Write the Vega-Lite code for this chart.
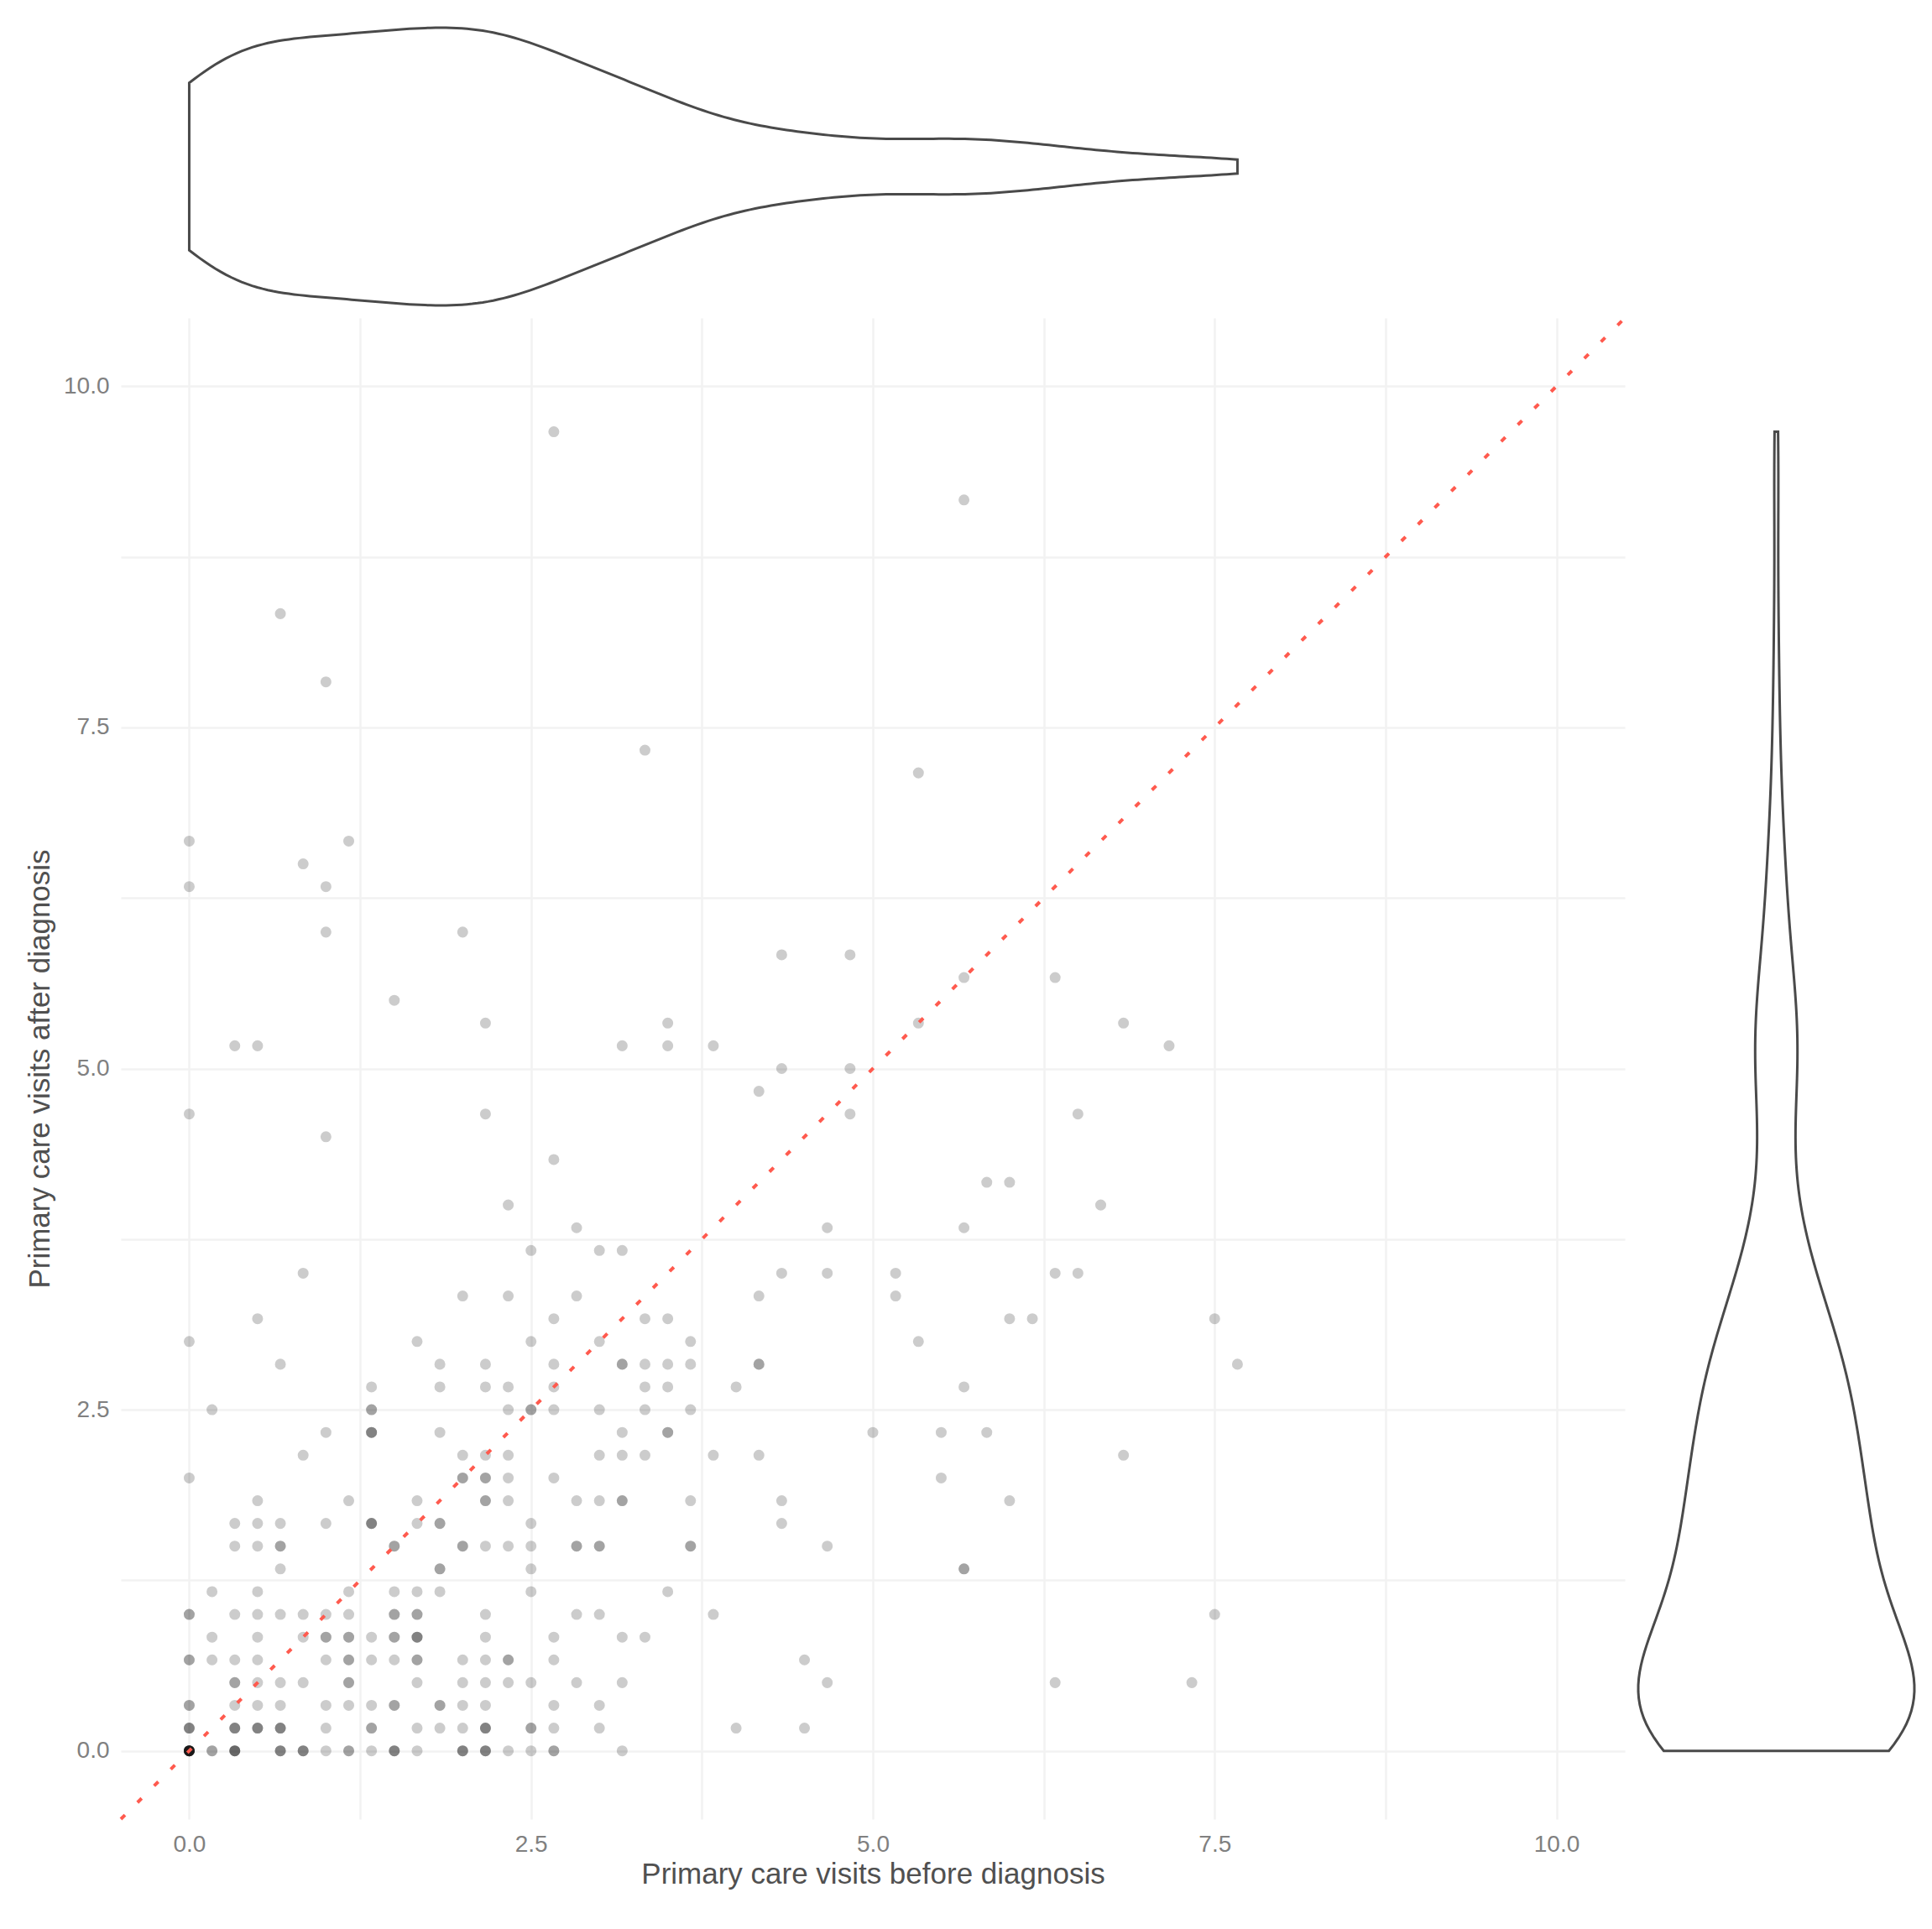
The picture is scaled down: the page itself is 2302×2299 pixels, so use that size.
{
  "$schema": "https://vega.github.io/schema/vega-lite/v6.json",
  "background": "white",
  "padding": {"left": 30, "top": 27, "right": 22, "bottom": 5},
  "bounds": "flush",
  "spacing": 15,
  "config": {
    "view": {"stroke": null},
    "axis": {
      "labelFont": "Liberation Sans", "titleFont": "Liberation Sans",
      "labelFontSize": 28, "titleFontSize": 35,
      "labelColor": "#808080", "titleColor": "#505050", "titleFontWeight": "normal",
      "grid": true, "gridColor": "#f2f2f2", "gridWidth": 2.5,
      "ticks": false, "domain": false, "labelFlush": false, "labelOverlap": false
    }
  },
  "datasets": {
    "diagonal": [{"before": -0.5, "after": -0.5}, {"before": 10.5, "after": 10.5}],
    "visits": [
      {"before":0,"after":0},{"before":0,"after":0},{"before":0,"after":0},{"before":0,"after":0},{"before":0,"after":0},{"before":0,"after":0},{"before":0,"after":0},{"before":0,"after":0},{"before":0,"after":0},{"before":0,"after":0},
      {"before":0.1667,"after":0},{"before":0.1667,"after":0},
      {"before":0.3333,"after":0},{"before":0.3333,"after":0},{"before":0.3333,"after":0},{"before":0.3333,"after":0},
      {"before":0.6667,"after":0},{"before":0.6667,"after":0},{"before":0.6667,"after":0},
      {"before":0.8333,"after":0},{"before":0.8333,"after":0},{"before":0.8333,"after":0},
      {"before":1,"after":0},
      {"before":1.1667,"after":0},{"before":1.1667,"after":0},
      {"before":1.3333,"after":0},
      {"before":1.5,"after":0},{"before":1.5,"after":0},{"before":1.5,"after":0},
      {"before":1.6667,"after":0},
      {"before":2,"after":0},{"before":2,"after":0},{"before":2,"after":0},
      {"before":2.1667,"after":0},{"before":2.1667,"after":0},{"before":2.1667,"after":0},
      {"before":2.3333,"after":0},{"before":2.5,"after":0},
      {"before":2.6667,"after":0},{"before":2.6667,"after":0},
      {"before":3.1667,"after":0},

      {"before":0,"after":0.1667},{"before":0,"after":0.1667},{"before":0,"after":0.1667},
      {"before":0.3333,"after":0.1667},{"before":0.3333,"after":0.1667},{"before":0.3333,"after":0.1667},
      {"before":0.5,"after":0.1667},{"before":0.5,"after":0.1667},{"before":0.5,"after":0.1667},
      {"before":0.6667,"after":0.1667},{"before":0.6667,"after":0.1667},{"before":0.6667,"after":0.1667},
      {"before":1,"after":0.1667},
      {"before":1.3333,"after":0.1667},{"before":1.3333,"after":0.1667},
      {"before":1.6667,"after":0.1667},{"before":1.8333,"after":0.1667},{"before":2,"after":0.1667},
      {"before":2.1667,"after":0.1667},{"before":2.1667,"after":0.1667},{"before":2.1667,"after":0.1667},
      {"before":2.5,"after":0.1667},{"before":2.5,"after":0.1667},
      {"before":2.6667,"after":0.1667},{"before":3,"after":0.1667},{"before":4,"after":0.1667},{"before":4.5,"after":0.1667},

      {"before":0,"after":0.3333},{"before":0,"after":0.3333},
      {"before":0.3333,"after":0.3333},{"before":0.5,"after":0.3333},{"before":0.6667,"after":0.3333},{"before":1,"after":0.3333},{"before":1.1667,"after":0.3333},{"before":1.3333,"after":0.3333},
      {"before":1.5,"after":0.3333},{"before":1.5,"after":0.3333},
      {"before":1.8333,"after":0.3333},{"before":1.8333,"after":0.3333},
      {"before":2,"after":0.3333},{"before":2.1667,"after":0.3333},{"before":2.6667,"after":0.3333},{"before":3,"after":0.3333},

      {"before":0.3333,"after":0.5},{"before":0.3333,"after":0.5},
      {"before":0.5,"after":0.5},{"before":0.6667,"after":0.5},{"before":0.8333,"after":0.5},
      {"before":1.1667,"after":0.5},{"before":1.1667,"after":0.5},
      {"before":1.6667,"after":0.5},{"before":2,"after":0.5},{"before":2.1667,"after":0.5},{"before":2.3333,"after":0.5},{"before":2.5,"after":0.5},{"before":2.8333,"after":0.5},{"before":3.1667,"after":0.5},{"before":4.6667,"after":0.5},{"before":6.3333,"after":0.5},{"before":7.3333,"after":0.5},

      {"before":0,"after":0.6667},{"before":0,"after":0.6667},
      {"before":0.1667,"after":0.6667},{"before":0.3333,"after":0.6667},{"before":0.5,"after":0.6667},{"before":1,"after":0.6667},
      {"before":1.1667,"after":0.6667},{"before":1.1667,"after":0.6667},
      {"before":1.3333,"after":0.6667},{"before":1.5,"after":0.6667},
      {"before":1.6667,"after":0.6667},{"before":1.6667,"after":0.6667},
      {"before":2,"after":0.6667},{"before":2.1667,"after":0.6667},
      {"before":2.3333,"after":0.6667},{"before":2.3333,"after":0.6667},
      {"before":2.6667,"after":0.6667},{"before":4.5,"after":0.6667},

      {"before":0.1667,"after":0.8333},{"before":0.5,"after":0.8333},{"before":0.8333,"after":0.8333},
      {"before":1,"after":0.8333},{"before":1,"after":0.8333},
      {"before":1.1667,"after":0.8333},{"before":1.1667,"after":0.8333},
      {"before":1.3333,"after":0.8333},
      {"before":1.5,"after":0.8333},{"before":1.5,"after":0.8333},
      {"before":1.6667,"after":0.8333},{"before":1.6667,"after":0.8333},{"before":1.6667,"after":0.8333},
      {"before":2.1667,"after":0.8333},{"before":2.6667,"after":0.8333},{"before":3.1667,"after":0.8333},{"before":3.3333,"after":0.8333},

      {"before":0,"after":1},{"before":0,"after":1},
      {"before":0.3333,"after":1},{"before":0.5,"after":1},{"before":0.6667,"after":1},{"before":0.8333,"after":1},{"before":1,"after":1},{"before":1.1667,"after":1},
      {"before":1.5,"after":1},{"before":1.5,"after":1},
      {"before":1.6667,"after":1},{"before":1.6667,"after":1},
      {"before":2.1667,"after":1},{"before":2.8333,"after":1},{"before":3,"after":1},{"before":3.8333,"after":1},{"before":7.5,"after":1},

      {"before":0.1667,"after":1.1667},{"before":0.5,"after":1.1667},{"before":1.1667,"after":1.1667},{"before":1.5,"after":1.1667},{"before":1.6667,"after":1.1667},{"before":1.8333,"after":1.1667},{"before":2.5,"after":1.1667},{"before":3.5,"after":1.1667},

      {"before":0.6667,"after":1.3333},
      {"before":1.8333,"after":1.3333},{"before":1.8333,"after":1.3333},
      {"before":2.5,"after":1.3333},
      {"before":5.6667,"after":1.3333},{"before":5.6667,"after":1.3333},

      {"before":0.3333,"after":1.5},{"before":0.5,"after":1.5},
      {"before":0.6667,"after":1.5},{"before":0.6667,"after":1.5},
      {"before":1.5,"after":1.5},{"before":1.5,"after":1.5},
      {"before":2,"after":1.5},{"before":2,"after":1.5},
      {"before":2.1667,"after":1.5},{"before":2.3333,"after":1.5},{"before":2.5,"after":1.5},
      {"before":2.8333,"after":1.5},{"before":2.8333,"after":1.5},
      {"before":3,"after":1.5},{"before":3,"after":1.5},
      {"before":3.6667,"after":1.5},{"before":3.6667,"after":1.5},
      {"before":4.6667,"after":1.5},

      {"before":0.3333,"after":1.6667},{"before":0.5,"after":1.6667},{"before":0.6667,"after":1.6667},{"before":1,"after":1.6667},
      {"before":1.3333,"after":1.6667},{"before":1.3333,"after":1.6667},{"before":1.3333,"after":1.6667},
      {"before":1.6667,"after":1.6667},
      {"before":1.8333,"after":1.6667},{"before":1.8333,"after":1.6667},
      {"before":2.5,"after":1.6667},{"before":4.3333,"after":1.6667},

      {"before":0.5,"after":1.8333},{"before":1.1667,"after":1.8333},{"before":1.6667,"after":1.8333},
      {"before":2.1667,"after":1.8333},{"before":2.1667,"after":1.8333},
      {"before":2.3333,"after":1.8333},{"before":2.8333,"after":1.8333},{"before":3,"after":1.8333},
      {"before":3.1667,"after":1.8333},{"before":3.1667,"after":1.8333},
      {"before":3.6667,"after":1.8333},{"before":4.3333,"after":1.8333},{"before":6,"after":1.8333},

      {"before":0,"after":2},
      {"before":2,"after":2},{"before":2,"after":2},
      {"before":2.1667,"after":2},{"before":2.1667,"after":2},
      {"before":2.3333,"after":2},{"before":2.6667,"after":2},{"before":5.5,"after":2},

      {"before":0.8333,"after":2.1667},{"before":2,"after":2.1667},{"before":2.1667,"after":2.1667},{"before":2.3333,"after":2.1667},{"before":3,"after":2.1667},{"before":3.1667,"after":2.1667},{"before":3.3333,"after":2.1667},{"before":3.8333,"after":2.1667},{"before":4.1667,"after":2.1667},{"before":6.8333,"after":2.1667},

      {"before":1,"after":2.3333},
      {"before":1.3333,"after":2.3333},{"before":1.3333,"after":2.3333},{"before":1.3333,"after":2.3333},
      {"before":1.8333,"after":2.3333},{"before":3.1667,"after":2.3333},
      {"before":3.5,"after":2.3333},{"before":3.5,"after":2.3333},
      {"before":5,"after":2.3333},{"before":5.5,"after":2.3333},{"before":5.8333,"after":2.3333},

      {"before":0.1667,"after":2.5},
      {"before":1.3333,"after":2.5},{"before":1.3333,"after":2.5},
      {"before":2.3333,"after":2.5},
      {"before":2.5,"after":2.5},{"before":2.5,"after":2.5},
      {"before":2.6667,"after":2.5},{"before":3,"after":2.5},{"before":3.3333,"after":2.5},{"before":3.6667,"after":2.5},

      {"before":1.3333,"after":2.6667},{"before":1.8333,"after":2.6667},{"before":2.1667,"after":2.6667},{"before":2.3333,"after":2.6667},{"before":2.6667,"after":2.6667},{"before":3.3333,"after":2.6667},{"before":3.5,"after":2.6667},{"before":4,"after":2.6667},{"before":5.6667,"after":2.6667},

      {"before":0.6667,"after":2.8333},{"before":1.8333,"after":2.8333},{"before":2.1667,"after":2.8333},{"before":2.6667,"after":2.8333},
      {"before":3.1667,"after":2.8333},{"before":3.1667,"after":2.8333},
      {"before":3.3333,"after":2.8333},{"before":3.5,"after":2.8333},{"before":3.6667,"after":2.8333},
      {"before":4.1667,"after":2.8333},{"before":4.1667,"after":2.8333},
      {"before":7.6667,"after":2.8333},

      {"before":0,"after":3},{"before":1.6667,"after":3},{"before":2.5,"after":3},{"before":3,"after":3},{"before":3.6667,"after":3},{"before":5.3333,"after":3},
      {"before":0.5,"after":3.1667},{"before":2.6667,"after":3.1667},{"before":3.3333,"after":3.1667},{"before":3.5,"after":3.1667},{"before":6,"after":3.1667},{"before":6.1667,"after":3.1667},{"before":7.5,"after":3.1667},
      {"before":2,"after":3.3333},{"before":2.3333,"after":3.3333},{"before":2.8333,"after":3.3333},{"before":4.1667,"after":3.3333},{"before":5.1667,"after":3.3333},
      {"before":0.8333,"after":3.5},{"before":4.3333,"after":3.5},{"before":4.6667,"after":3.5},{"before":5.1667,"after":3.5},{"before":6.3333,"after":3.5},{"before":6.5,"after":3.5},
      {"before":2.5,"after":3.6667},{"before":3,"after":3.6667},{"before":3.1667,"after":3.6667},
      {"before":2.8333,"after":3.8333},{"before":4.6667,"after":3.8333},{"before":5.6667,"after":3.8333},
      {"before":2.3333,"after":4},{"before":6.6667,"after":4},
      {"before":5.8333,"after":4.1667},{"before":6,"after":4.1667},
      {"before":2.6667,"after":4.3333},
      {"before":1,"after":4.5},
      {"before":0,"after":4.6667},{"before":2.1667,"after":4.6667},{"before":4.8333,"after":4.6667},{"before":6.5,"after":4.6667},
      {"before":4.1667,"after":4.8333},
      {"before":4.3333,"after":5},{"before":4.8333,"after":5},
      {"before":0.3333,"after":5.1667},{"before":0.5,"after":5.1667},{"before":3.1667,"after":5.1667},{"before":3.5,"after":5.1667},{"before":3.8333,"after":5.1667},{"before":7.1667,"after":5.1667},
      {"before":2.1667,"after":5.3333},{"before":3.5,"after":5.3333},{"before":5.3333,"after":5.3333},{"before":6.8333,"after":5.3333},
      {"before":1.5,"after":5.5},
      {"before":5.6667,"after":5.6667},{"before":6.3333,"after":5.6667},
      {"before":4.3333,"after":5.8333},{"before":4.8333,"after":5.8333},
      {"before":1,"after":6},{"before":2,"after":6},
      {"before":0,"after":6.3333},{"before":1,"after":6.3333},
      {"before":0.8333,"after":6.5},
      {"before":0,"after":6.6667},{"before":1.1667,"after":6.6667},
      {"before":5.3333,"after":7.1667},
      {"before":3.3333,"after":7.3333},
      {"before":1,"after":7.8333},
      {"before":0.6667,"after":8.3333},
      {"before":5.6667,"after":9.1667},
      {"before":2.6667,"after":9.6667}
    ]
  },
  "resolve": {"scale": {"x": "independent", "y": "independent"}},
  "vconcat": [
    {
      "width": 1792,
      "height": 331,
      "data": {"name": "visits"},
      "transform": [{"density": "before", "bandwidth": 0.47, "steps": 200, "as": ["before", "density"]}],
      "mark": {"type": "area", "orient": "vertical", "fill": "white", "stroke": "#4a4a4a", "strokeWidth": 3},
      "encoding": {
        "x": {"field": "before", "type": "quantitative", "scale": {"domain": [-0.5, 10.5], "nice": false, "zero": false}, "axis": null},
        "y": {"field": "density", "type": "quantitative", "stack": "center", "scale": {"nice": false}, "axis": null}
      }
    },
    {
      "hconcat": [
        {
          "width": 1792,
          "height": 1789,
          "layer": [
            {
              "data": {"name": "visits"},
              "mark": {"type": "circle", "color": "black", "opacity": 0.2, "size": 170},
              "encoding": {
                "x": {"field": "before", "type": "quantitative", "title": "Primary care visits before diagnosis",
                  "scale": {"domain": [-0.5, 10.5], "nice": false, "zero": false},
                  "axis": {"values": [0, 1.25, 2.5, 3.75, 5, 6.25, 7.5, 8.75, 10], "labelExpr": "datum.value % 2.5 == 0 ? format(datum.value, '.1f') : ''", "labelPadding": 16, "titlePadding": 4}},
                "y": {"field": "after", "type": "quantitative", "title": "Primary care visits after diagnosis",
                  "scale": {"domain": [-0.5, 10.5], "nice": false, "zero": false},
                  "axis": {"values": [0, 1.25, 2.5, 3.75, 5, 6.25, 7.5, 8.75, 10], "labelExpr": "datum.value % 2.5 == 0 ? format(datum.value, '.1f') : ''", "labelPadding": 14, "titlePadding": 10}}
              }
            },
            {
              "data": {"name": "diagonal"},
              "mark": {"type": "line", "color": "#ff5a4e", "strokeWidth": 4, "strokeDash": [7, 21]},
              "encoding": {
                "x": {"field": "before", "type": "quantitative"},
                "y": {"field": "after", "type": "quantitative"}
              }
            }
          ]
        },
        {
          "width": 329,
          "height": 1789,
          "data": {"name": "visits"},
          "transform": [{"density": "after", "bandwidth": 0.5, "steps": 200, "as": ["after", "density"]}],
          "mark": {"type": "area", "orient": "horizontal", "fill": "white", "stroke": "#4a4a4a", "strokeWidth": 3},
          "encoding": {
            "y": {"field": "after", "type": "quantitative", "scale": {"domain": [-0.5, 10.5], "nice": false, "zero": false}, "axis": null},
            "x": {"field": "density", "type": "quantitative", "stack": "center", "scale": {"nice": false}, "axis": null}
          }
        }
      ],
      "spacing": 16,
      "bounds": "flush",
      "resolve": {"scale": {"x": "independent", "y": "independent"}}
    }
  ]
}
